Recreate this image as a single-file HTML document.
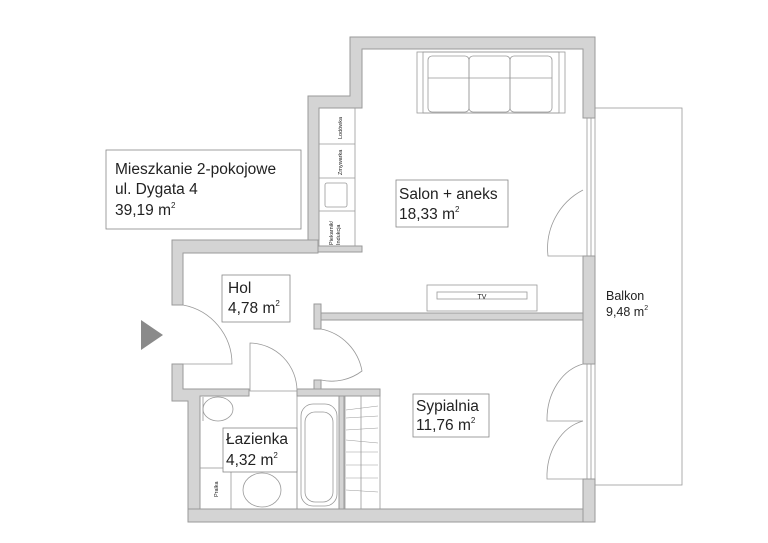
<!DOCTYPE html>
<html><head><meta charset="utf-8"><style>
html,body{margin:0;padding:0;background:#fff;width:768px;height:543px;overflow:hidden}
svg{display:block}
text{font-family:"Liberation Sans",Arial,sans-serif;fill:#222}
</style></head><body>
<svg width="768" height="543" viewBox="0 0 768 543" xmlns="http://www.w3.org/2000/svg">
<g fill="none" stroke="#999" stroke-width="0.8">
<!-- balcony -->
<rect x="595" y="108" width="87" height="377"/>
<!-- windows -->
<line x1="587" y1="118" x2="587" y2="256"/><line x1="591" y1="118" x2="591" y2="256"/>
<line x1="587" y1="364" x2="587" y2="479"/><line x1="591" y1="364" x2="591" y2="479"/>
<!-- sofa -->
<rect x="417" y="52" width="148" height="61"/>
<rect x="423" y="52" width="136" height="61"/>
<rect x="428" y="56" width="41" height="56" rx="4"/><rect x="469" y="56" width="41" height="56" rx="4"/><rect x="510" y="56" width="42" height="56" rx="4"/>
<line x1="428" y1="78" x2="552" y2="78"/>
<!-- kitchen -->
<rect x="319" y="108" width="36" height="138"/>
<line x1="319" y1="144" x2="355" y2="144"/><line x1="319" y1="178" x2="355" y2="178"/><line x1="319" y1="211" x2="355" y2="211"/>
<rect x="325" y="183" width="22" height="24" rx="2"/>
<!-- TV -->
<rect x="427" y="285" width="110" height="26"/>
<rect x="437" y="292" width="90" height="7"/>
<!-- doors -->
<path d="M583 190 A66 66 0 0 0 548 256 L583 256"/>
<path d="M183 305 A60 60 0 0 1 232 364 L183 364"/>
<path d="M250 343 A48 48 0 0 1 297 391 L250 391 Z"/>
<path d="M321 329 A52 52 0 0 1 362 371 A50 50 0 0 1 321 380"/>
<path d="M583 364 A46 57 0 0 0 547 421 L583 421"/>
<path d="M583 421 A46 57 0 0 0 547 479 L583 479"/>
<!-- bathroom -->
<line x1="297" y1="396" x2="297" y2="509"/>
<ellipse cx="218" cy="409" rx="15" ry="12"/><line x1="203" y1="397" x2="203" y2="421"/>
<rect x="200" y="468" width="97" height="41"/><line x1="231" y1="468" x2="231" y2="509"/>
<ellipse cx="262" cy="490" rx="19" ry="17"/>
<rect x="301" y="404" width="36" height="102" rx="12"/>
<rect x="305" y="412" width="28" height="90" rx="10"/>
<!-- wardrobe -->
<rect x="345" y="396" width="35" height="113"/>
<line x1="361" y1="396" x2="361" y2="509"/>
</g>
<g fill="#999" stroke="#999" stroke-width="0.6">
<line x1="346" y1="410" x2="378" y2="406"/><line x1="346" y1="418" x2="378" y2="416"/><line x1="346" y1="430" x2="378" y2="428"/>
<line x1="346" y1="440" x2="378" y2="443"/><line x1="346" y1="452" x2="378" y2="452"/><line x1="346" y1="465" x2="378" y2="465"/><line x1="346" y1="478" x2="378" y2="478"/><line x1="346" y1="490" x2="378" y2="492"/>
</g>
<!-- walls -->
<g fill="#d4d4d4" stroke="#9a9a9a" stroke-width="1">
<path d="M350 37 H595 V118 H583 V49 H362 V108 H319 V240 H308 V96 H350 Z"/>
<rect x="308" y="246" width="54" height="6"/>
<path d="M172 240 H318 V253 H183 V305 H172 Z"/>
<rect x="583" y="256" width="12" height="108"/>
<rect x="583" y="479" width="12" height="43"/>
<path d="M188 509 H583 V522 H188 Z"/>
<path d="M172 364 H183 V389 H249 V396 H200 V509 H188 V401 H172 Z"/>
<rect x="297" y="389" width="83" height="7"/>
<rect x="321" y="313" width="262" height="7"/>
<rect x="314" y="304" width="7" height="25"/>
<rect x="314" y="380" width="7" height="9"/>
<rect x="339" y="396" width="5" height="113"/>
</g>
<polygon points="141,320 163,335 141,350" fill="#8a8a8a"/>
<!-- labels -->
<g fill="#fff" stroke="#888" stroke-width="0.8">
<rect x="106" y="150" width="195" height="79"/>
<rect x="396" y="180" width="112" height="47"/>
<rect x="222" y="275" width="68" height="47"/>
<rect x="413" y="394" width="76" height="43"/>
<rect x="223" y="428" width="74" height="44"/>
</g>
<text font-size="15.5"><tspan x="115" y="174">Mieszkanie 2-pokojowe</tspan><tspan x="115" y="194">ul. Dygata 4</tspan><tspan x="115" y="215">39,19 m<tspan font-size="8" dy="-7">2</tspan></tspan></text>
<text font-size="15.5"><tspan x="399" y="199">Salon + aneks</tspan><tspan x="399" y="219">18,33 m<tspan font-size="8" dy="-7">2</tspan></tspan></text>
<text font-size="15.5"><tspan x="228" y="293">Hol</tspan><tspan x="228" y="313">4,78 m<tspan font-size="8" dy="-7">2</tspan></tspan></text>
<text font-size="15.5"><tspan x="416" y="411">Sypialnia</tspan><tspan x="416" y="430">11,76 m<tspan font-size="8" dy="-7">2</tspan></tspan></text>
<text font-size="15.5"><tspan x="226" y="444">Łazienka</tspan><tspan x="226" y="465">4,32 m<tspan font-size="8" dy="-7">2</tspan></tspan></text>
<text font-size="12.5"><tspan x="606" y="300">Balkon</tspan><tspan x="606" y="316">9,48 m<tspan font-size="7" dy="-6">2</tspan></tspan></text>
<text x="482" y="299" font-size="7" text-anchor="middle">TV</text>
<g font-size="5.5">
<text transform="translate(342,139) rotate(-90)">Lodówka</text>
<text transform="translate(342,175) rotate(-90)">Zmywarka</text>
<text transform="translate(333,245) rotate(-90)">Piekarnik/</text>
<text transform="translate(340,245) rotate(-90)">Indukcja</text>
<text transform="translate(218,497) rotate(-90)">Pralka</text>
</g>
</svg>
</body></html>
